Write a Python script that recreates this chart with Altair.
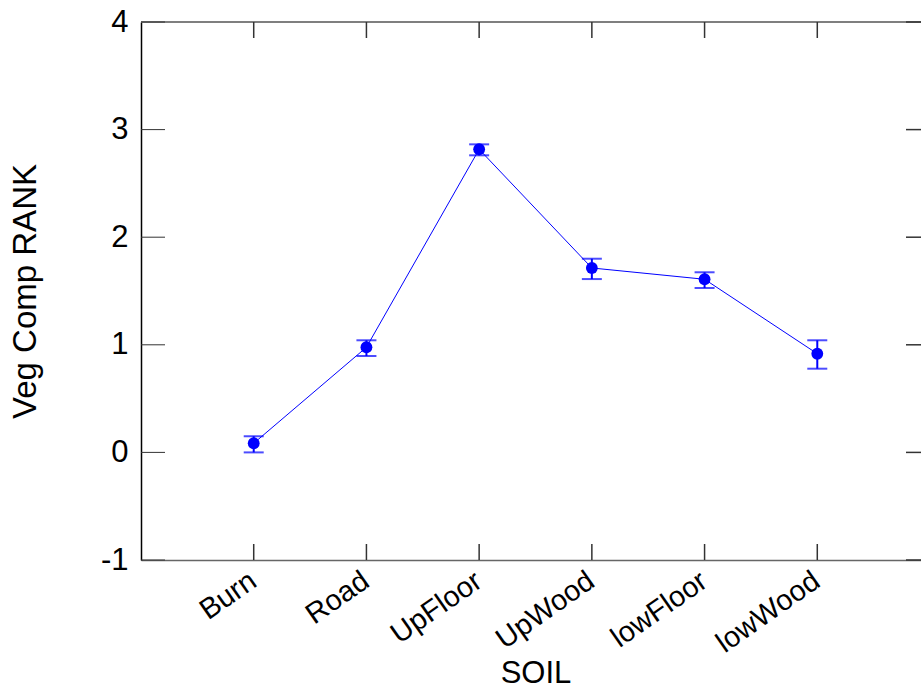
import altair as alt
import pandas as pd

soil = ["Burn", "Road", "UpFloor", "UpWood", "lowFloor", "lowWood"]
mean_rank = [0.085, 0.977, 2.817, 1.714, 1.609, 0.917]
upper = [0.150, 1.042, 2.863, 1.800, 1.674, 1.042]
lower = [0.000, 0.896, 2.761, 1.611, 1.528, 0.778]
y_ticks = [-1, 0, 1, 2, 3, 4]

df = pd.DataFrame({"soil": soil, "mean": mean_rank, "upper": upper, "lower": lower})
df_ticks = pd.DataFrame({"v": y_ticks})
df_one = pd.DataFrame({"a": [0]})

BLUE = "#0000ff"
W, H = 780, 538

x_enc = alt.X(
    "soil:N",
    sort=soil,
    scale=alt.Scale(type="point", range=[0, 789], padding=1),
    axis=alt.Axis(
        title="SOIL",
        titleFontSize=31,
        titleFontWeight="normal",
        titlePadding=1,
        labelAngle=325,
        labelAlign="right",
        labelBaseline="top",
        labelFontSize=29,
        labelPadding=6,
        labelOffset=-9,
        labelColor="black",
        ticks=False,
        domainColor="#666666",
        domainWidth=1.5,
        grid=False,
    ),
)
y_scale = alt.Scale(domain=[-1, 4], nice=False, zero=False)
y_enc = alt.Y(
    "mean:Q",
    scale=y_scale,
    axis=alt.Axis(
        values=y_ticks,
        labelExpr="'' + datum.value",
        title="Veg Comp RANK",
        titleFontSize=33,
        titleFontWeight="normal",
        titlePadding=58,
        labelFontSize=31,
        labelPadding=13,
        labelColor="black",
        ticks=False,
        domainColor="black",
        domainWidth=1.5,
        grid=False,
    ),
)

line = alt.Chart(df).mark_line(color=BLUE, strokeWidth=1).encode(x=x_enc, y=y_enc)
points = alt.Chart(df).mark_circle(color=BLUE, size=140, opacity=1).encode(x=x_enc, y=y_enc)
bars = alt.Chart(df).mark_rule(color=BLUE, strokeWidth=2).encode(
    x=x_enc, y=alt.Y("lower:Q", scale=y_scale), y2="upper:Q"
)
cap_hi = alt.Chart(df).mark_tick(color=BLUE, size=20, thickness=2).encode(
    x=x_enc, y=alt.Y("upper:Q", scale=y_scale)
)
cap_lo = alt.Chart(df).mark_tick(color=BLUE, size=20, thickness=2).encode(
    x=x_enc, y=alt.Y("lower:Q", scale=y_scale)
)

tick_color = "#333333"
left_ticks = alt.Chart(df_ticks).mark_rule(color=tick_color, strokeWidth=1).encode(
    y=alt.Y("v:Q", scale=y_scale), x=alt.value(0), x2=alt.value(24)
)
right_ticks = alt.Chart(df_ticks).mark_rule(color=tick_color, strokeWidth=1.5).encode(
    y=alt.Y("v:Q", scale=y_scale), x=alt.value(765), x2=alt.value(W)
)
top_ticks = alt.Chart(df).mark_rule(color=tick_color, strokeWidth=1.5).encode(
    x=x_enc, y=alt.value(0), y2=alt.value(16)
)
bottom_ticks = alt.Chart(df).mark_rule(color=tick_color, strokeWidth=1.5).encode(
    x=x_enc, y=alt.value(H), y2=alt.value(H - 16)
)
top_line = alt.Chart(df_one).mark_rule(color="#555555", strokeWidth=1.5).encode(
    x=alt.value(0), x2=alt.value(W), y=alt.value(0)
)

chart = (
    alt.layer(
        top_line, left_ticks, right_ticks, top_ticks, bottom_ticks,
        line, bars, cap_hi, cap_lo, points,
    )
    .properties(
        width=W,
        height=H,
        autosize=alt.AutoSizeParams(type="none"),
        padding={"left": 141, "top": 22, "right": 0, "bottom": 131},
        background="white",
    )
    .configure(font="Liberation Sans")
    .configure_view(stroke=None)
)

chart.save("out.html", embed_options={"renderer": "svg", "actions": False})
